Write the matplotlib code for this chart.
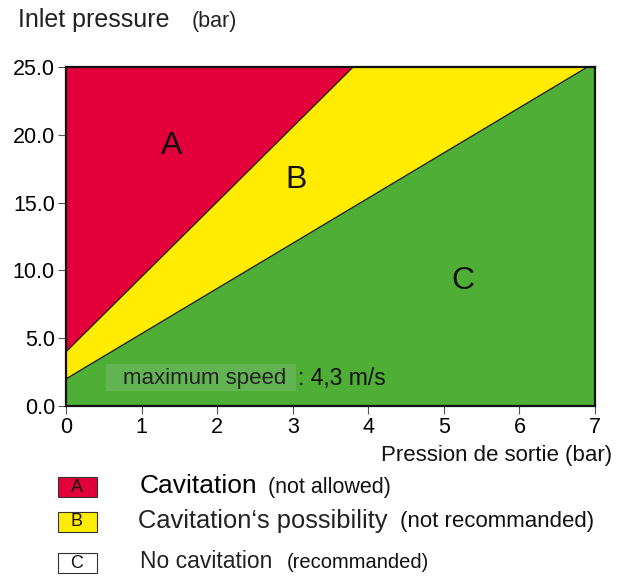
import matplotlib
matplotlib.use("Agg")
import matplotlib.pyplot as plt
from matplotlib.patches import Rectangle

plt.rcParams['font.family'] = ['Liberation Sans', 'DejaVu Sans']

# Data
x_range = [0, 7]
y_range = [0, 25]
boundary_AB_x = [0, 3.8]
boundary_AB_y = [4, 25]
boundary_BC_x = [0, 6.9]
boundary_BC_y = [2, 25]
x_ticks = [0, 1, 2, 3, 4, 5, 6, 7]
y_ticks = [0.0, 5.0, 10.0, 15.0, 20.0, 25.0]
zone_labels = ["A", "B", "C"]
zone_label_pos = [(1.4, 19.2), (3.05, 16.7), (5.25, 9.2)]
zone_colors = ["#E3003A", "#FFEC00", "#4EAE35"]
legend_titles = ["Cavitation", "Cavitation\u2018s possibility", "No cavitation"]
legend_notes = ["(not allowed)", "(not recommanded)", "(recommanded)"]
legend_box_colors = ["#E3003A", "#FFEC00", "#FFFFFF"]

fig = plt.figure(figsize=(6.23, 5.77), dpi=100)
ax = fig.add_axes([66/623, 1-406/577, (595-66)/623, (406-67)/577])
ax.set_xlim(*x_range)
ax.set_ylim(*y_range)

# zones
red_x = [boundary_AB_x[0], boundary_AB_x[1], x_range[0]]
red_y = [boundary_AB_y[0], boundary_AB_y[1], y_range[1]]
yel_x = [boundary_BC_x[0], boundary_AB_x[0], boundary_AB_x[1], boundary_BC_x[1]]
yel_y = [boundary_BC_y[0], boundary_AB_y[0], boundary_AB_y[1], boundary_BC_y[1]]
grn_x = [x_range[0], boundary_BC_x[0], boundary_BC_x[1], x_range[1], x_range[1]]
grn_y = [y_range[0], boundary_BC_y[0], boundary_BC_y[1], y_range[1], y_range[0]]
ax.fill(red_x, red_y, color=zone_colors[0], lw=0)
ax.fill(yel_x, yel_y, color=zone_colors[1], lw=0)
ax.fill(grn_x, grn_y, color=zone_colors[2], lw=0)
ax.plot(boundary_AB_x, boundary_AB_y, color="#1a1a1a", lw=0.9)
ax.plot(boundary_BC_x, boundary_BC_y, color="#1a1a1a", lw=0.9)

for lab, (lx, ly) in zip(zone_labels, zone_label_pos):
    ax.text(lx, ly, lab, fontsize=23, ha="center", va="center", color="#111111")

# maximum speed box
ax.add_patch(Rectangle((0.53, 1.1), 3.04-0.53, 2.0, transform=ax.transData,
                       facecolor="#62b352", edgecolor="none", zorder=3))
ax.text(0.75, 2.05, "maximum speed", fontsize=16, ha="left", va="center",
        color="#222222", zorder=4)
ax.text(3.07, 2.05, ": 4,3 m/s", fontsize=16.5, ha="left", va="center",
        color="#111111", zorder=4)

ax.set_xticks(x_ticks)
ax.set_xticklabels([str(t) for t in x_ticks])
ax.set_yticks(y_ticks)
ax.set_yticklabels([f"{t:.1f}" for t in y_ticks])
ax.tick_params(axis="both", direction="out", length=6, width=0.8, color="#555555",
               labelsize=15.5, pad=2)
for s in ax.spines.values():
    s.set_linewidth(1.6)
    s.set_color("#111111")

fig.text(18/623, 1-20/577, "Inlet pressure", fontsize=18, ha="left", va="center", color="#222222")
fig.text(192/623, 1-22/577, "(bar)", fontsize=15.5, ha="left", va="center", color="#222222")
fig.text(612/623, 1-456/577, "Pression de sortie (bar)", fontsize=16, ha="right", va="center", color="#111111")

# legend
rows_y = [487, 522, 563]
title_sizes = [19, 18.4, 16.5]
note_sizes = [15.5, 16, 14.5]
title_x = [140, 138, 140]
note_x = [268, 400, 287]
for i in range(3):
    yc = rows_y[i]
    fig.patches.append(Rectangle((58/623, 1-(yc+10)/577), 39/623, 20/577,
                                 transform=fig.transFigure, facecolor=legend_box_colors[i],
                                 edgecolor="#333333", lw=0.8))
    fig.text(77/623, 1-yc/577, zone_labels[i], fontsize=13, ha="center", va="center", color="#111111")
    fig.text(title_x[i]/623, 1-(yc-1)/577, legend_titles[i], fontsize=title_sizes[i],
             ha="left", va="center", color="#000000" if i == 0 else "#222222")
    fig.text(note_x[i]/623, 1-yc/577, legend_notes[i], fontsize=note_sizes[i], ha="left",
             va="center", color="#111111")

fig.savefig("out.png", dpi=100)
